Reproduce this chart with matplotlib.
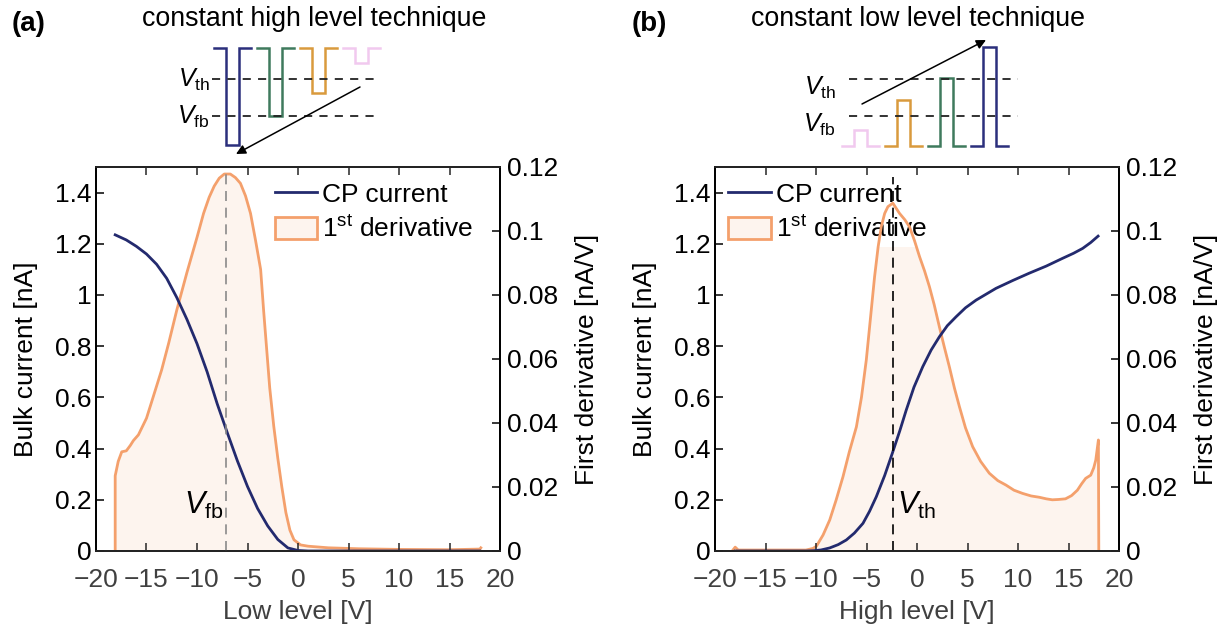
import matplotlib.pyplot as plt
from matplotlib.patches import Patch
from matplotlib.lines import Line2D

plt.rcParams['font.family'] = ['Liberation Sans', 'DejaVu Sans']
plt.rcParams['mathtext.fontset'] = 'custom'
plt.rcParams['mathtext.rm'] = 'Liberation Sans'
plt.rcParams['mathtext.it'] = 'Liberation Sans:italic'
plt.rcParams['mathtext.bf'] = 'Liberation Sans:bold'

# (a) constant high level: sweep of the low level
low_x = [-18.1, -17, -16, -15, -14, -13, -12, -11, -10, -9, -8, -7, -6, -5,
         -4, -3, -2, -1, 0, 1, 18]
low_cp = [1.235, 1.215, 1.19, 1.16, 1.12, 1.065, 0.99, 0.905, 0.81, 0.70,
          0.575, 0.462, 0.352, 0.252, 0.166, 0.098, 0.045, 0.012, 0.002, 0.0, 0.0]
low_dx = [-18.1, -18.1, -17.8, -17.45, -17.0, -16.6, -16.3, -15.8, -15.0, -14.6,
          -13.5, -12.8, -12.0, -11.0, -10.0, -9.35, -8.8, -8.3, -7.8, -7.3, -6.7,
          -6.2, -5.7, -5.2, -4.7, -4.2, -3.7, -3.4, -3.1, -2.8, -2.4, -2.0, -1.6,
          -1.2, -0.8, -0.4, 0.25, 1, 3, 6, 10, 15, 18, 18.1]
low_der = [0.0, 0.0235, 0.028, 0.031, 0.0313, 0.033, 0.0345, 0.0363, 0.0415, 0.0455,
           0.0566, 0.065, 0.0753, 0.087, 0.098, 0.1055, 0.1105, 0.114, 0.1165, 0.1178,
           0.1178, 0.1167, 0.1149, 0.111, 0.1055, 0.097, 0.088, 0.075, 0.063, 0.051,
           0.039, 0.029, 0.020, 0.012, 0.0065, 0.0035, 0.0019, 0.0015, 0.001, 0.0007,
           0.0005, 0.0004, 0.0006, 0.001]
v_fb = -7.1

# (b) constant low level: sweep of the high level
high_x = [-18, -11, -10.3, -9.5, -8.64, -7.8, -7.0, -6.2, -5.35, -4.7, -4.03, -3.2,
          -2.45, -1.7, -1.07, -0.3, 0.57, 1.4, 2.22, 3.0, 3.87, 4.8, 5.85, 7.82, 9.5,
          11.1, 12.8, 14.4, 15.5, 16.4, 17.2, 17.93]
high_cp = [0.0, 0.0, 0.001, 0.004, 0.012, 0.025, 0.043, 0.07, 0.108, 0.155, 0.212,
           0.295, 0.381, 0.47, 0.55, 0.64, 0.72, 0.785, 0.837, 0.88, 0.915, 0.95,
           0.98, 1.026, 1.057, 1.085, 1.113, 1.143, 1.163, 1.182, 1.205, 1.23]
high_dx = [-18.3, -18.0, -17.7, -15, -11, -10.3, -9.96, -9.3, -8.64, -8.0, -7.33,
           -6.7, -6.0, -5.5, -5.02, -4.6, -4.2, -3.85, -3.54, -3.2, -2.88, -2.39,
           -2.0, -1.73, -1.2, -0.74, -0.25, 0.25, 0.75, 1.23, 1.7, 2.22, 2.7, 3.2,
           3.7, 4.2, 4.8, 5.51, 6.3, 7.16, 8.0, 8.81, 9.6, 10.45, 11.3, 12.1, 12.8,
           13.4, 14.0, 14.7, 15.3, 15.88, 16.3, 16.7, 17.2, 17.5, 17.7, 17.96, 18.0]
high_der = [0.0, 0.0012, 0.0003, 0.0003, 0.0003, 0.0008, 0.0015, 0.005, 0.0097,
            0.016, 0.0232, 0.031, 0.0388, 0.048, 0.0597, 0.073, 0.0857, 0.095,
            0.1013, 0.1055, 0.1076, 0.1087, 0.1068, 0.1055, 0.1035, 0.1013, 0.097,
            0.092, 0.0875, 0.0826, 0.077, 0.070, 0.0638, 0.0576, 0.051, 0.0451,
            0.0385, 0.0326, 0.028, 0.0243, 0.022, 0.0206, 0.019, 0.018, 0.0172,
            0.0168, 0.0163, 0.016, 0.0161, 0.0163, 0.0173, 0.019, 0.021, 0.0227,
            0.0237, 0.026, 0.0284, 0.0347, 0.0]
v_th = -2.4

xticks = [-20, -15, -10, -5, 0, 5, 10, 15, 20]
yticks_left = [0, 0.2, 0.4, 0.6, 0.8, 1, 1.2, 1.4]
yticks_right = [0, 0.02, 0.04, 0.06, 0.08, 0.1, 0.12]

# schematic pulse levels (schematic units, 0 = fixed level)
pulse_colors = ['#2b2f7c', '#3f7a5d', '#d99a3d', '#f1c9ef']
pulses_a = [-9.7, -6.8, -4.5, -1.5]          # low levels, navy -> pink
pulses_b = [1.6, 4.6, 6.8, 9.9]              # high levels, pink -> navy
ref_a = {'th': -3.1, 'fb': -6.8}
ref_b = {'th': 6.7, 'fb': 3.0}

navy = '#232a6e'
orange = '#f4a06c'
fillc = '#fdf4ee'
grey = '#262626'
FS = 19

W, H = 1229, 632
fig = plt.figure(figsize=(W / 100, H / 100), dpi=100)


def panel(left, x_cp, y_cp, x_d, y_d, xlabel, vx, vtext, vcolor, vtop,
          vlab_x, vlab_ha, leg_anchor):
    ax1 = fig.add_axes([left / W, 81 / H, 404 / W, 384 / H])
    ax2 = ax1.twinx()
    ax1.set_zorder(ax2.get_zorder() + 1)
    ax1.patch.set_visible(False)

    ax2.fill_between(x_d, y_d, 0, color=fillc, lw=0, zorder=1)
    ax2.plot(x_d, y_d, color=orange, lw=2, zorder=2)
    ax1.plot(x_cp, y_cp, color=navy, lw=2)
    ax1.vlines(vx, 0, vtop, colors=vcolor, linestyles=(0, (6, 4)), lw=1.2)
    ax1.text(vlab_x, 0.145, vtext, ha=vlab_ha, va='baseline', fontsize=22)

    ax1.set_xlim(-20, 20)
    ax1.set_ylim(0, 1.5)
    ax2.set_ylim(0, 0.12)
    ax1.set_xticks(xticks)
    ax1.set_yticks(yticks_left)
    ax1.set_yticklabels(['%g' % v for v in yticks_left])
    ax2.set_yticks(yticks_right)
    ax2.set_yticklabels(['%g' % v for v in yticks_right])
    ax1.tick_params(direction='in', top=True, length=6, width=1.1, labelsize=FS)
    ax1.tick_params(axis='x', colors=grey, labelcolor='#404040', pad=12)
    ax2.tick_params(direction='in', length=6, width=1.1, labelsize=FS, pad=5)
    for a in (ax1, ax2):
        for s in a.spines.values():
            s.set_linewidth(1.3)
    ax1.spines['bottom'].set_color(grey)
    ax1.spines['top'].set_color(grey)
    ax1.set_xlabel(xlabel, fontsize=FS, color='#404040', labelpad=6)
    ax1.set_ylabel('Bulk current [nA]', fontsize=FS, labelpad=12)
    ax2.set_ylabel('First derivative [nA/V]', fontsize=FS, labelpad=12)

    handles = [Line2D([], [], color=navy, lw=2),
               Patch(facecolor=fillc, edgecolor=orange, lw=2)]
    leg = ax2.legend(handles, ['CP current', '1$^{\\rm st}$ derivative'],
                     loc='upper left', bbox_to_anchor=leg_anchor, fontsize=FS,
                     frameon=True, facecolor='white', edgecolor='none',
                     framealpha=1, fancybox=False, borderaxespad=0,
                     borderpad=0.2, handlelength=1.6, handleheight=0.9,
                     handletextpad=0.2, labelspacing=0.35)
    leg.set_zorder(1.5)
    return ax1, ax2


panel(96, low_x, low_cp, low_dx, low_der, 'Low level [V]', v_fb,
      '$V_{\\rm fb}$', '#8a8a8a', 1.472, v_fb - 0.25, 'right', (0.43, 0.975))
panel(715, high_x, high_cp, high_dx, high_der, 'High level [V]', v_th,
      '$V_{\\rm th}$', 'black', 1.46, v_th + 0.45, 'left', (0.02, 0.975))

# schematics drawn in a figure-wide overlay (pixel units)
ov = fig.add_axes([0, 0, 1, 1])
ov.set_xlim(0, W)
ov.set_ylim(H, 0)
ov.axis('off')


def schematic(x0, base, scale, levels, refs, high_fixed, dash_x, label_x,
              arrow_from, arrow_to):
    seg = 12.3
    for i, (lvl, c) in enumerate(zip(levels, pulse_colors if high_fixed
                                     else pulse_colors[::-1])):
        s = x0 + i * 43
        fixed = base
        var = base - lvl * scale
        xs = [s, s + seg, s + seg, s + 2 * seg, s + 2 * seg, s + 3 * seg]
        ys = [fixed, fixed, var, var, fixed, fixed]
        ov.plot(xs, ys, color=c, lw=1.8, solid_joinstyle='miter')
    for key, lvl in refs.items():
        y = base - lvl * scale
        ov.plot(dash_x, [y, y], color='#222222', lw=1.3, ls=(0, (4.5, 4)))
        ov.text(label_x, y + (1 if high_fixed else 9), '$V_{\\rm %s}$' % key,
                ha='right', va='center', fontsize=18)
    ov.annotate('', xy=arrow_to, xytext=arrow_from,
                arrowprops=dict(arrowstyle='-|>', color='black', lw=1.1,
                                mutation_scale=14, shrinkA=0, shrinkB=0))


schematic(214, 48, 10, pulses_a, ref_a, True, [212, 380], 210,
          (360, 87), (236, 154))
schematic(842, 146, 10, pulses_b, ref_b, False, [849, 1018], 836,
          (862, 104), (986, 40))

fig.text(314 / W, 1 - 19 / H, 'constant high level technique', ha='center',
         va='center', fontsize=19.3)
fig.text(918 / W, 1 - 19 / H, 'constant low level technique', ha='center',
         va='center', fontsize=19.3)
fig.text(12 / W, 1 - 24 / H, '(a)', fontweight='bold', fontsize=20, va='center')
fig.text(632 / W, 1 - 24 / H, '(b)', fontweight='bold', fontsize=20, va='center')

fig.savefig('out.png', dpi=100)
